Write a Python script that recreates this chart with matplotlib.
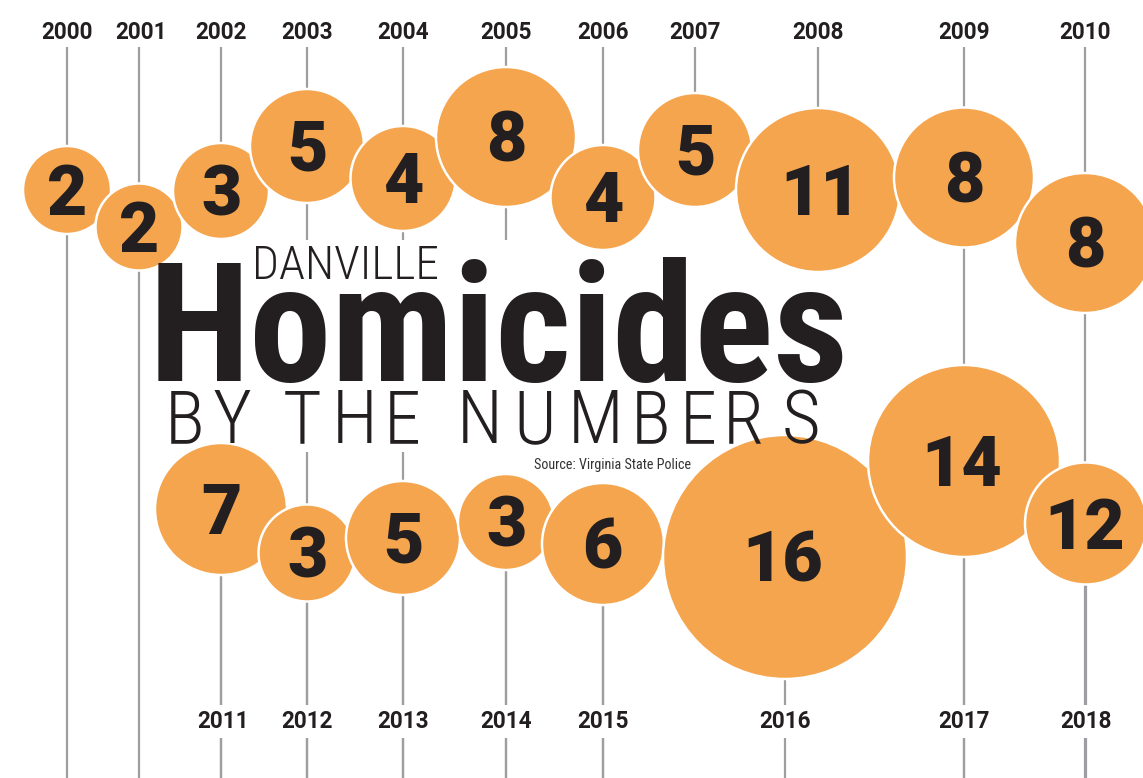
import os
import matplotlib
matplotlib.use("Agg")
import matplotlib.pyplot as plt
from matplotlib import font_manager as fm
from matplotlib.font_manager import FontProperties
from matplotlib.textpath import TextPath
from matplotlib.patches import Circle, Rectangle

# ---------------- data ----------------
years = [2000, 2001, 2002, 2003, 2004, 2005, 2006, 2007, 2008, 2009,
         2010, 2011, 2012, 2013, 2014, 2015, 2016, 2017, 2018]
homicides = [2, 2, 3, 5, 4, 8, 4, 5, 11, 8,
             8, 7, 3, 5, 3, 6, 16, 14, 12]
title_small = "DANVILLE"
title_big = "Homicides"
title_sub = "BY THE NUMBERS"
source = "Source: Virginia State Police"

# ---------------- layout (pixels, from top-left) ----------------
W, H = 1143, 778
row = ["top"] * 11 + ["bottom"] * 8
col_x = [67, 139, 221, 307, 403, 506, 603, 695, 818, 964, 1085,
         221, 307, 403, 506, 603, 785, 964, 1086]
bubble_y = [190, 227, 191, 146, 178.5, 137, 197.5, 150, 190, 177.5, 243,
            509, 553, 538, 522, 544, 557, 461, 523.5]
bubble_r = [44, 43.5, 48, 57, 52.5, 70, 52.5, 57, 82, 70, 70,
            66, 48.5, 57, 48, 61, 122, 96, 61]
line_runs_to_bottom = {2000, 2001, 2002, 2003, 2004, 2005, 2006, 2009, 2010}
top_label_base, bottom_label_base = 39, 728
line_top, line_bottom = 47, 778
sub_letter_cx = [186, 232, 302, 355, 404, 480, 535, 596, 652, 700, 745, 801]

ORANGE = "#F5A54D"
INK = "#231F20"
GREY = "#9C9EA1"

# ---------------- font picking ----------------
ALLOWED = ["Roboto", "Noto Sans", "Open Sans", "Lato", "Inter",
           "Liberation Sans", "DejaVu Sans"]
STRIP = {"condensed", "extracondensed", "semicondensed", "ultracondensed",
         "cond", "narrow", "extra", "semi", "ultra", "black", "bold",
         "extrabold", "semibold", "light", "extralight", "thin", "medium",
         "heavy", "regular", "hairline", "ultralight", "demibold"}
WMAP = {"normal": 400, "regular": 400, "book": 400, "medium": 500,
        "semibold": 600, "demibold": 600, "bold": 700, "heavy": 800,
        "extra bold": 800, "black": 900, "light": 300, "thin": 100,
        "ultralight": 200}


def _weight(f):
    w = f.weight
    if isinstance(w, str):
        try:
            return int(w)
        except ValueError:
            return WMAP.get(w.lower(), 400)
    return int(w)


def _narrow(f):
    s = (f.name + " " + os.path.basename(f.fname) + " " + str(f.stretch))
    s = s.lower().replace("-", "").replace(" ", "").replace("_", "")
    if "ultracondensed" in s or "extracondensed" in s:
        return 3
    if "semicondensed" in s:
        return 1
    if "condensed" in s or "narrow" in s or "cond" in s:
        return 2
    return 0


def _base(name):
    for b in ALLOWED:
        if name == b or name.startswith(b + " "):
            rest = name[len(b):].lower().split()
            if all(t in STRIP for t in rest):
                return b
    return None


def pick(prefs, weight, narrow):
    best = None
    for f in fm.fontManager.ttflist:
        if f.style != "normal":
            continue
        low = f.fname.lower()
        if "italic" in low or "oblique" in low:
            continue
        b = _base(f.name)
        if b is None or b not in prefs:
            continue
        score = 10 * abs(_narrow(f) - narrow) + abs(_weight(f) - weight) / 100.0 + 0.6 * prefs.index(b)
        if best is None or score < best[0]:
            best = (score, f.fname)
    if best is None:
        return fm.findfont(FontProperties(family="DejaVu Sans", weight="bold"))
    return best[1]


F_BIG = pick(["Roboto", "Noto Sans", "Open Sans", "Liberation Sans", "Lato", "Inter", "DejaVu Sans"], 900, 3)
F_NUM = pick(["Roboto", "Lato", "Inter", "Noto Sans", "Open Sans", "DejaVu Sans"], 900, 0)
F_YEAR = pick(["Roboto", "Noto Sans", "Open Sans", "Lato", "DejaVu Sans"], 700, 0)
F_THIN = pick(["Roboto", "Noto Sans", "Open Sans", "Lato", "Inter", "Liberation Sans", "DejaVu Sans"], 200, 2)
F_SRC = pick(["Roboto", "Noto Sans", "Open Sans", "Liberation Sans", "Lato", "DejaVu Sans"], 400, 2)


def ink(s, fname, size_px):
    tp = TextPath((0, 0), s, size=size_px, prop=FontProperties(fname=fname))
    e = tp.get_extents()
    return e.x0, e.x1, e.y0, e.y1


def size_for_height(s, fname, h):
    x0, x1, y0, y1 = ink(s, fname, 100)
    return 100.0 * h / (y1 - y0)


def size_for_width(s, fname, w):
    x0, x1, y0, y1 = ink(s, fname, 100)
    return 100.0 * w / (x1 - x0)


# ---------------- figure ----------------
fig = plt.figure(figsize=(W / 100, H / 100), dpi=100)
ax = fig.add_axes([0, 0, 1, 1])
ax.set_xlim(0, W)
ax.set_ylim(H, 0)
ax.axis("off")


def place(s, fname, size_px, color=INK, left=None, cx=None, baseline=None, cy=None,
          z=50, bbox=None):
    x0, x1, y0, y1 = ink(s, fname, size_px)
    xo = left - x0 if left is not None else cx - (x0 + x1) / 2.0
    yb = baseline if baseline is not None else cy + (y0 + y1) / 2.0
    return ax.text(xo, yb, s, fontproperties=FontProperties(fname=fname, size=size_px * 72.0 / 100),
                   ha="left", va="baseline", color=color, zorder=z, bbox=bbox)


# vertical stems
for i, yr in enumerate(years):
    if row[i] == "top":
        y_end = line_bottom if yr in line_runs_to_bottom else bubble_y[i]
        ax.plot([col_x[i], col_x[i]], [line_top, y_end], color=GREY, lw=1.6,
                solid_capstyle="butt", zorder=1)
    else:
        ax.plot([col_x[i], col_x[i]], [bubble_y[i], line_bottom], color=GREY, lw=1.6,
                solid_capstyle="butt", zorder=1)

# white area behind the title block
ax.add_patch(Rectangle((150, 240), 682, 212, facecolor="white", edgecolor="none", zorder=2))
ax.add_patch(Rectangle((470, 452), 230, 36, facecolor="white", edgecolor="none", zorder=2))

# bubbles
num_px = min(size_for_height("8", F_NUM, 51), size_for_width("16", F_NUM, 88))
for i, (yr, v) in enumerate(zip(years, homicides)):
    ax.add_patch(Circle((col_x[i], bubble_y[i]), bubble_r[i], facecolor=ORANGE,
                        edgecolor="white", lw=1.8, zorder=3 + i))
    place(str(v), F_NUM, num_px, cx=col_x[i], cy=bubble_y[i], z=40)

# year labels
yr_px = size_for_height("2000", F_YEAR, 16.5)
for i, yr in enumerate(years):
    if row[i] == "top":
        place(str(yr), F_YEAR, yr_px, cx=col_x[i], baseline=top_label_base)
    else:
        place(str(yr), F_YEAR, yr_px, cx=col_x[i], baseline=bottom_label_base,
              bbox=dict(boxstyle="square,pad=0.2", facecolor="white", edgecolor="none"))

# title block
d_px = min(size_for_width(title_small, F_THIN, 181), size_for_height(title_small, F_THIN, 34) * 1.12)
place(title_small, F_THIN, d_px, left=256, baseline=279)

h_px = min(size_for_width(title_big, F_BIG, 685), size_for_height("H", F_BIG, 129))
place(title_big, F_BIG, h_px, left=158, baseline=381)

s_px = size_for_height("H", F_THIN, 53)
for ch, cx in zip(title_sub.replace(" ", ""), sub_letter_cx):
    place(ch, F_THIN, s_px, cx=cx, baseline=443)

src_px = size_for_width(source, F_SRC, 157)
place(source, F_SRC, src_px, color="#333333", left=535, baseline=469)

fig.savefig("out.png", dpi=100)
